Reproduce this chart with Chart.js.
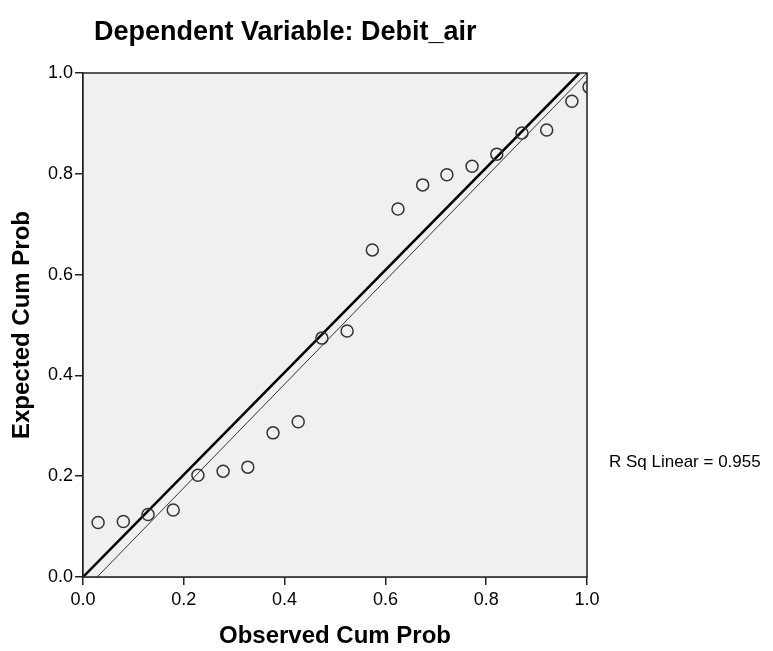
<!DOCTYPE html>
<html lang="en">
<head>
    <meta charset="UTF-8">
    <title>Normal P-P Plot - Debit_air</title>
    <script src="https://cdn.jsdelivr.net/npm/chart.js"></script>
    <style>
        html, body {
            margin: 0;
            padding: 0;
            background: #fff;
        }
        .chart-box {
            width: 773px;
            height: 651px;
        }
    </style>
</head>
<body>
    <div class="chart-box">
        <canvas id="ppChart"></canvas>
    </div>

    <script>
        // Observed vs expected cumulative probabilities
        const observedCum = [0.030, 0.080, 0.129, 0.179, 0.228, 0.278, 0.327, 0.377, 0.427, 0.474,
                             0.524, 0.574, 0.625, 0.674, 0.722, 0.772, 0.821, 0.871, 0.920, 0.970, 1.004];
        const expectedCum = [0.108, 0.110, 0.124, 0.133, 0.202, 0.210, 0.218, 0.286, 0.308, 0.474,
                             0.488, 0.649, 0.730, 0.778, 0.798, 0.815, 0.839, 0.881, 0.887, 0.944, 0.972];

        // the two straight lines
        const refLineX = [0, 0.985];
        const refLineY = [0, 1];
        const fitLineX = [0.028, 1.0];
        const fitLineY = [0, 1];

        const tickValues = [0, 0.2, 0.4, 0.6, 0.8, 1.0];
        const chartTitle = 'Dependent Variable: Debit_air';
        const rSqText = 'R Sq Linear = 0.955';

        const toPoints = (xs, ys) => xs.map((x, i) => ({ x: x, y: ys[i] }));

        const font = 'Liberation Sans, Arial, sans-serif';

        // grey plot background, frame and text around the plot
        const frame = {
            id: 'frame',
            beforeDatasetsDraw(chart) {
                const a = chart.chartArea;
                const ctx = chart.ctx;
                ctx.save();
                ctx.fillStyle = '#f0f0f0';
                ctx.fillRect(a.left, a.top, a.right - a.left, a.bottom - a.top);
                ctx.restore();
            },
            afterDraw(chart) {
                const a = chart.chartArea;
                const ctx = chart.ctx;
                ctx.save();
                ctx.strokeStyle = '#222';
                ctx.lineWidth = 1.5;
                ctx.strokeRect(a.left, a.top, a.right - a.left, a.bottom - a.top);

                ctx.fillStyle = '#000';
                ctx.textBaseline = 'middle';
                ctx.textAlign = 'left';
                ctx.font = 'bold 27px ' + font;
                ctx.fillText(chartTitle, 94, 33);

                ctx.font = '17px ' + font;
                ctx.fillText(rSqText, 609, 462);
                ctx.restore();
            }
        };

        new Chart(document.getElementById('ppChart'), {
            type: 'scatter',
            data: {
                datasets: [
                    {
                        data: toPoints(observedCum, expectedCum),
                        pointRadius: 6,
                        pointHoverRadius: 6,
                        pointBorderWidth: 1.5,
                        borderColor: '#333',
                        backgroundColor: 'rgba(0,0,0,0)'
                    },
                    {
                        type: 'line',
                        data: toPoints(refLineX, refLineY),
                        borderColor: '#000',
                        borderWidth: 2.5,
                        pointRadius: 0,
                        fill: false
                    },
                    {
                        type: 'line',
                        data: toPoints(fitLineX, fitLineY),
                        borderColor: '#333',
                        borderWidth: 1,
                        pointRadius: 0,
                        fill: false
                    }
                ]
            },
            options: {
                responsive: true,
                maintainAspectRatio: false,
                animation: false,
                layout: {
                    padding: { left: 8, right: 186, top: 73, bottom: 0 }
                },
                plugins: {
                    legend: { display: false },
                    tooltip: { enabled: false }
                },
                scales: {
                    x: {
                        type: 'linear',
                        min: 0,
                        max: 1,
                        afterBuildTicks: (s) => { s.ticks = tickValues.map(v => ({ value: v })); },
                        afterFit: (s) => { s.height = 74; },
                        ticks: {
                            color: '#000',
                            font: { family: font, size: 18 },
                            padding: 4,
                            callback: (v) => v.toFixed(1)
                        },
                        grid: {
                            drawOnChartArea: false,
                            tickLength: 8,
                            color: '#222',
                            lineWidth: 1.5
                        },
                        border: { color: '#222', width: 1.5 },
                        title: {
                            display: true,
                            text: 'Observed Cum Prob',
                            color: '#000',
                            font: { family: font, size: 24, weight: 'bold' },
                            padding: { top: 0, bottom: 0 }
                        }
                    },
                    y: {
                        type: 'linear',
                        min: 0,
                        max: 1,
                        afterBuildTicks: (s) => { s.ticks = tickValues.map(v => ({ value: v })); },
                        afterFit: (s) => { s.width = 75; },
                        ticks: {
                            color: '#000',
                            font: { family: font, size: 18 },
                            padding: 2,
                            callback: (v) => v.toFixed(1)
                        },
                        grid: {
                            drawOnChartArea: false,
                            tickLength: 8,
                            color: '#222',
                            lineWidth: 1.5
                        },
                        border: { color: '#222', width: 1.5 },
                        title: {
                            display: true,
                            text: 'Expected Cum Prob',
                            color: '#000',
                            font: { family: font, size: 24, weight: 'bold' },
                            padding: { top: 0, bottom: 0 }
                        }
                    }
                }
            },
            plugins: [frame]
        });
    </script>
</body>
</html>
